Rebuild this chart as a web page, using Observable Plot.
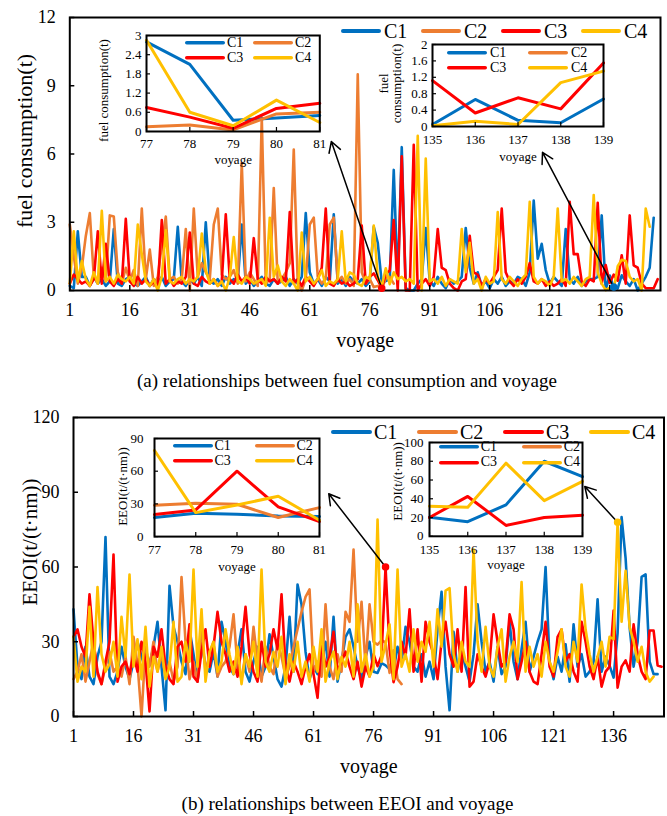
<!DOCTYPE html>
<html>
<head>
<meta charset="utf-8">
<script src="https://cdn.jsdelivr.net/npm/d3@7"></script>
<script src="https://cdn.jsdelivr.net/npm/@observablehq/plot@0.6"></script>
<style>
  body { margin: 0; background: #fff; font-family: "Liberation Serif", "Times New Roman", serif; }
  #page { position: relative; width: 667px; height: 816px; overflow: hidden; background: #fff; }
  .caption { position: absolute; font-family: "Liberation Serif", "Times New Roman", serif; font-size: 19px; white-space: nowrap; transform: translate(-50%, -50%); line-height: 1; }
  .key { font-family: "Liberation Serif", "Times New Roman", serif; }
</style>
</head>
<body>
<div id="page"></div>
<script>
// ---- series ----
const seriesNames = ["C1", "C2", "C3", "C4"];
const seriesColors = ["#0070C0", "#ED7D31", "#FF0000", "#FFC000"];
const mainXTicks = [1, 16, 31, 46, 61, 76, 91, 106, 121, 136];

// fuel consumption (t) per voyage, starting at voyage 1
const fuelC1 = [0.2,0.1,2.6,0.6,0.6,0.2,0.6,0.3,0.5,0.2,
  0.4,2.7,0.3,0.2,0.5,0.6,0.3,0.2,0.4,0.6,
  0.2,0.5,0.3,0.6,0.2,0.4,0.5,2.8,0.4,0.2,
  0.5,0.3,0.6,0.2,3.0,0.4,0.3,0.5,0.2,0.6,
  0.3,0.5,0.4,2.9,0.3,0.5,0.2,0.4,0.6,0.3,
  0.2,0.5,0.3,0.4,0.6,0.2,0.5,0.3,0.6,3.4,
  0.8,0.3,0.5,0.2,0.6,0.4,3.35,0.3,0.5,0.2,
  0.6,0.4,0.3,0.5,0.2,0.4,2.8,2.1,0.35,0.42,
  0.5,5.3,0.3,6.3,0.1,0.0,0.0,0.3,0.5,2.75,
  0.4,0.2,0.6,0.3,0.1,0.5,0.3,0.4,0.6,2.75,
  1.0,0.3,0.8,0.2,0.4,0.1,0.5,0.3,0.6,0.2,
  0.4,0.3,0.6,0.5,0.2,0.8,3.95,1.4,2.05,0.9,
  0.3,0.6,0.4,0.2,2.7,0.5,0.3,0.6,0.2,0.4,
  0.5,0.5,0.6,3.3,0.05,0.66,0.15,0.09,0.67,0.4,
  0.2,0.5,0.0,0.3,0.6,1.0,3.2];
const fuelC2 = [2.9,1.5,0.3,1.0,2.4,3.4,0.6,0.3,1.0,0.4,
  3.3,3.25,0.8,0.3,1.0,0.4,0.9,0.2,3.6,0.5,
  1.8,0.2,0.6,2.0,3.25,0.5,0.6,0.3,0.5,2.7,
  0.0,3.6,0.6,1.2,0.8,0.5,2.9,3.6,0.7,0.5,
  0.6,0.9,0.3,5.6,0.4,0.8,0.5,0.2,7.6,0.3,
  0.5,4.5,0.3,0.5,0.8,1.2,6.2,0.3,0.0,0.5,
  2.9,3.2,0.6,0.3,0.5,2.9,3.2,0.4,0.6,0.3,
  0.5,0.2,9.5,0.8,0.3,0.5,0.15,0.2,0.05,0.55,
  0.6,0.3];
const fuelC3 = [0.3,0.7,0.5,0.3,0.4,0.2,0.5,2.6,0.3,2.05,
  0.4,0.2,0.5,0.3,3.15,0.4,0.2,0.6,0.3,0.5,
  0.2,0.4,0.1,3.1,0.3,0.5,0.2,0.4,0.3,0.6,
  2.55,0.3,0.2,0.6,0.4,0.3,0.5,0.2,0.4,3.35,
  0.5,0.3,0.7,0.4,0.6,0.3,2.3,0.5,0.3,0.6,
  0.4,0.5,0.3,0.6,0.4,3.45,0.3,0.5,0.2,0.6,
  0.4,0.2,0.5,1.0,3.6,0.3,0.2,0.5,0.3,0.4,
  0.2,0.3,0.5,2.85,0.3,0.6,0.75,0.45,0.1,0.72,
  0.88,3.1,0.0,5.9,0.0,0.0,6.4,0.0,0.3,0.5,
  0.2,0.6,2.7,1.0,0.9,0.3,0.1,0.0,0.4,0.5,
  2.4,0.8,0.7,0.2,0.5,0.3,0.6,0.9,3.6,0.8,
  0.4,0.2,0.5,0.3,0.6,1.2,0.4,0.3,0.5,0.2,
  0.4,0.2,0.3,0.5,0.2,3.9,1.6,1.6,0.4,0.2,
  0.5,0.4,3.85,0.3,1.12,0.33,0.7,0.43,1.55,0.3,
  3.3,1.1,1.0,0.3,0.1,0.1,0.1,0.5];
const fuelC4 = [0.3,2.6,0.4,1.3,0.5,0.2,0.8,0.3,3.5,0.4,
  0.6,0.3,0.7,0.5,0.4,0.6,0.3,2.9,1.6,0.4,
  0.2,0.5,0.0,0.6,2.65,0.4,0.3,0.5,0.6,0.3,
  0.5,0.4,0.6,2.5,0.9,0.3,0.5,0.2,0.4,0.0,
  0.6,2.35,0.4,0.3,0.6,0.5,0.3,0.4,0.5,0.2,
  3.2,0.6,1.1,0.4,0.2,0.5,0.3,0.0,2.55,0.4,
  0.6,0.3,0.5,0.9,0.2,0.4,0.3,0.5,2.6,0.4,
  0.8,0.7,0.3,0.2,0.6,0.5,2.85,0.6,0.18,0.98,
  0.28,0.8,0.5,0.6,0.4,0.5,0.3,6.8,0.0,5.8,
  0.4,0.5,0.3,0.6,0.2,0.5,0.4,0.3,2.7,0.8,
  2.1,0.3,0.5,0.0,0.6,0.3,0.4,3.45,0.5,0.3,
  0.6,0.4,0.2,0.5,0.7,3.9,0.6,0.3,0.5,0.4,
  0.2,0.6,3.6,0.4,0.5,0.3,0.6,0.4,0.2,0.5,
  0.6,4.2,0.8,0.3,0.02,0.13,0.05,1.07,1.35,1.3,
  0.6,0.4,0.5,0.0,3.6,2.8];

// EEOI (t/(t·nm)) per voyage, starting at voyage 1
const eeoiC1 = [43,20,15,28,16,13,24,30,72,16,
  13,18,28,20,15,22,30,24,19,21,
  28,38,20,2.5,52.5,36,30,22,17,35,
  25,14,30,20,18,26,16,38,30,20,
  17,25,35,18,14,22,28,16,20,33,
  24,15,12,20,40,18,53,45,26,15,
  20,17,22,30,16,40,14,22,32,35,
  28,20,15,24,30,18,17.5,21.4,20.5,19,
  18.4,28,22,36,30,20,18,25,16,22,
  15,35,50,20,2.5,34,18,26,20,14,
  25,45,30,18,22,14,28,17,20,38,
  22,15,27,38,18,24,30,35,60,22,
  15,24,18,29,14,37,20,25,16,18,
  22,47,18,24,20.4,15.6,33.5,80,63.6,36,
  20,30,56,57,22,17,17];
const eeoiC2 = [15,18,25,14,22,30,17,13,20,26,
  18,20,16,24,13,32,21,0,28,20,
  30,18,25,16,22,14,20,56,30,15,
  22,14,35,18,25,30,16,20,22,28,
  41,20,15,25,18,36,22,14,28,20,
  17,30,24,16,20,28,35,42,48,51,
  18,22,16,45,20,15,25,18,42,38,
  67,30,46,20,45,30,28.8,30.6,29.7,17.5,
  26.6,15,13];
const eeoiC3 = [32,35,28,24,49,30,18,13,22,30,
  65,14,20,22,17,25,18,30,22,2,
  28,24,35,20,15,13,28,30,22,37,
  16,14,26,35,20,28,42,30,25,18,
  22,16,28,44,25,18,14,30,20,25,
  35,27,49,20,14,22,18,13,20,25,
  17,7.5,30,20,24,34,18,22,26,20,
  15,22,12,20,16,25,20.2,24.5,60,27.2,
  13.8,20,30,24,43,18,35,14,38,30,
  25,15,30,38,25,20,35,18,52,12,
  14,25,20,16,22,41,30,20,22,41,
  35,15,22,30,18,14,13,25,38,20,
  16,32,35,22,25,18,14,38,30,20,
  15,24,12,18,20,42.5,11.6,20,22.5,18,
  37,25,18,15,34.5,34.5,20.5,20];
const eeoiC4 = [32,14,20,18,44,16,52,25,18,21,
  30,16,40,24,57,20,31,15,36,12,
  24,18,28,15,20,38,14,16,30,22,
  59,20,43,14,26,30,18,22,35,25,
  17,28,13,25,20,30,16,59,22,18,
  26,20,32,13,25,18,30,16,22,14,
  28,18,35,14,22,26,15,24,20,30,
  16,45,18,25,16,20,79,22,29,37,
  15,59,20,25,18,35,22,30,26,38,
  20,43,28,50.5,51.5,25,18,30,22,20,
  67,30,18,36,20,16,28,35,14,24,
  30,22,54,18,28,20,25,16,30,22,
  18,26,35,20,16,30,22,53,35,25,
  18,24,30,20,32,31,78,38,58.5,36,
  30,22,28,18,14,16];

// Callout arrows: from a voyage on one series up to the zoomed panel
const fuelArrows = [
  {series: "C3", x1: 79, x2: 66.4, y2: 6.55},
  {series: "C1", x1: 137, x2: 119.2, y2: 6.07}
];
const eeoiArrows = [
  {series: "C3", x1: 79, x2: 64.8, y2: 89.4},
  {series: "C4", x1: 137, x2: 128.8, y2: 92.3}
];

const FONT = '"Liberation Serif", "Times New Roman", serif';
const PAGE_W = 667;
const page = document.getElementById("page");

function tidy(arrays, range) {
  const rows = [];
  arrays.forEach((vals, s) => vals.forEach((v, i) => {
    const voyage = i + 1;
    if (!range || (voyage >= range[0] && voyage <= range[1])) rows.push({voyage, value: v, series: seriesNames[s]});
  }));
  return rows;
}

function place(el, left, top) {
  el.style.position = "absolute";
  el.style.left = left + "px";
  el.style.top = top + "px";
  page.appendChild(el);
}

// centred title text (rotated for the y axis)
function title(label, anchor, opts) {
  return Plot.text([label], {text: d => d, frameAnchor: anchor, textAnchor: "middle", lineAnchor: "middle", ...opts});
}

function panel(cfg) {
  const f = cfg.frame;
  const plotW = f.right - f.left;
  const plotH = f.bottom - f.top;
  const arrows = cfg.arrows.map(a => ({...a, y1: cfg.values[seriesNames.indexOf(a.series)][a.x1 - 1]}));
  const svg = Plot.plot({
    width: PAGE_W, height: cfg.height,
    marginLeft: f.left, marginRight: PAGE_W - f.right,
    marginTop: f.top, marginBottom: cfg.height - f.bottom,
    x: {domain: cfg.xDomain},
    y: {domain: cfg.yDomain},
    color: {domain: seriesNames, range: seriesColors},
    style: {fontFamily: FONT, fontSize: "18px", background: "transparent", overflow: "visible"},
    marks: [
      Plot.line(tidy(cfg.values), {x: "voyage", y: "value", z: "series", stroke: "series", strokeWidth: 2.6, strokeLinejoin: "round"}),
      Plot.ruleX(mainXTicks, {x: d => d, insetTop: plotH - 5, stroke: "black", strokeWidth: 1.5}),
      Plot.ruleY(cfg.yTicks, {y: d => d, insetRight: plotW - 5, stroke: "black", strokeWidth: 1.5}),
      Plot.axisX({ticks: mainXTicks, tickSize: 0, tickPadding: 13, label: null}),
      Plot.axisY({ticks: cfg.yTicks, tickSize: 0, tickPadding: 14, label: null}),
      Plot.frame({stroke: "black", strokeWidth: 2}),
      Plot.arrow(arrows, {x1: "x1", y1: "y1", x2: "x2", y2: "y2", stroke: "black", strokeWidth: 1.5, headLength: 12}),
      Plot.dot(arrows, {x: "x1", y: "y1", r: 3, fill: "series", stroke: "series"}),
      title(cfg.yTitle, "left", {dx: cfg.yTitleDx, dy: cfg.yTitleDy, rotate: -90, fontSize: cfg.yTitleSize}),
      title("voyage", "bottom", {dy: 50, fontSize: 20})
    ]
  });
  place(svg, 0, cfg.top);
}

function inset(cfg) {
  const m = {left: 60, right: 8, top: 8, bottom: 40};
  const b = cfg.box;
  const w = b.right - b.left, h = b.bottom - b.top;
  const xt = d3.range(cfg.xDomain[0], cfg.xDomain[1] + 1);
  const svg = Plot.plot({
    width: w + m.left + m.right, height: h + m.top + m.bottom,
    marginLeft: m.left, marginRight: m.right, marginTop: m.top, marginBottom: m.bottom,
    x: {domain: cfg.xDomain},
    y: {domain: cfg.yDomain},
    color: {domain: seriesNames, range: seriesColors},
    style: {fontFamily: FONT, fontSize: "13px", background: "transparent", overflow: "visible"},
    marks: [
      Plot.line(tidy(cfg.values, cfg.xDomain), {x: "voyage", y: "value", z: "series", stroke: "series", strokeWidth: 3, strokeLinejoin: "round"}),
      Plot.ruleX(xt, {x: d => d, insetTop: h - 4, stroke: "black", strokeWidth: 1.2}),
      Plot.ruleY(cfg.yTicks, {y: d => d, insetRight: w - 4, stroke: "black", strokeWidth: 1.2}),
      Plot.axisX({ticks: xt, tickSize: 0, tickPadding: cfg.xPad, label: null, tickFormat: d => String(d)}),
      Plot.axisY({ticks: cfg.yTicks, tickSize: 0, tickPadding: cfg.yPad, label: null, tickFormat: d => String(d)}),
      Plot.frame({stroke: "black", strokeWidth: 2}),
      title(cfg.yTitle, "left", {dx: cfg.titleDx, dy: cfg.titleDy, rotate: -90, fontSize: 13, lineHeight: 1}),
      title("voyage", "bottom", {dy: cfg.voyageDy, fontSize: 13})
    ]
  });
  place(svg, b.left - m.left, b.top - m.top);
}

function legend(cfg) {
  seriesNames.forEach((name, i) => {
    const col = i % cfg.cols, row = Math.floor(i / cfg.cols);
    const item = document.createElement("div");
    item.className = "key";
    item.style.cssText = `display:flex;align-items:center;transform:translateY(-50%);font-size:${cfg.fontSize}px;line-height:1;white-space:nowrap;`;
    const lw = cfg.lineWidth;
    item.innerHTML = `<svg width="${cfg.lineLen}" height="${lw + 2}" style="display:block;overflow:visible"><line x1="${lw / 2}" x2="${cfg.lineLen - lw / 2}" y1="${lw / 2 + 1}" y2="${lw / 2 + 1}" stroke="${seriesColors[i]}" stroke-width="${lw}" stroke-linecap="round"/></svg><span style="margin-left:${cfg.gap}px">${name}</span>`;
    place(item, cfg.left + col * cfg.colWidth, cfg.top + row * cfg.rowHeight);
  });
}

function caption(text, cx, cy) {
  const el = document.createElement("div");
  el.className = "caption";
  el.textContent = text;
  place(el, cx, cy);
}

// (a) fuel consumption
const fuelValues = [fuelC1, fuelC2, fuelC3, fuelC4];
panel({
  top: 0, height: 355, values: fuelValues,
  frame: {left: 69.3, top: 17, right: 660, bottom: 290},
  xDomain: [1, 148.7], yDomain: [0, 12], yTicks: [0, 3, 6, 9, 12],
  arrows: fuelArrows,
  yTitle: "fuel consumption(t)", yTitleDx: -45, yTitleDy: -13, yTitleSize: 22
});
inset({
  values: fuelValues, box: {left: 146, top: 35, right: 319.3, bottom: 131},
  xDomain: [77, 81], yDomain: [0, 3], yTicks: [0, 0.6, 1.2, 1.8, 2.4, 3],
  xPad: 7, yPad: 5, yTitle: "fuel consumption(t)", titleDx: -43, titleDy: 7, voyageDy: 28
});
inset({
  values: fuelValues, box: {left: 431.7, top: 44, right: 602.7, bottom: 126},
  xDomain: [135, 139], yDomain: [0, 2], yTicks: [0, 0.4, 0.8, 1.2, 1.6, 2],
  xPad: 8, yPad: 5, yTitle: "fuel\nconsumption(t)", titleDx: -42, titleDy: -2, voyageDy: 30
});
legend({left: 341, top: 31, cols: 4, colWidth: 80, rowHeight: 0, lineLen: 40, lineWidth: 4, fontSize: 20, gap: 3});
legend({left: 185, top: 43, cols: 2, colWidth: 68, rowHeight: 14.5, lineLen: 40, lineWidth: 3.5, fontSize: 14, gap: 2});
legend({left: 447, top: 53, cols: 2, colWidth: 81, rowHeight: 15, lineLen: 40, lineWidth: 3.5, fontSize: 14, gap: 3});
caption("(a) relationships between fuel consumption and voyage", 347, 380);

// (b) EEOI
const eeoiValues = [eeoiC1, eeoiC2, eeoiC3, eeoiC4];
panel({
  top: 400, height: 381, values: eeoiValues,
  frame: {left: 73, top: 17, right: 663.5, bottom: 316},
  xDomain: [1, 148.6], yDomain: [0, 120], yTicks: [0, 30, 60, 90, 120],
  arrows: eeoiArrows,
  yTitle: "EEOI(t/(t·nm))", yTitleDx: -43, yTitleDy: -25, yTitleSize: 21
});
inset({
  values: eeoiValues, box: {left: 153.5, top: 437.6, right: 318.5, bottom: 535.7},
  xDomain: [77, 81], yDomain: [0, 90], yTicks: [0, 30, 60, 90],
  xPad: 8, yPad: 11, yTitle: "EEOI(t/(t·nm))", titleDx: -32, titleDy: -1, voyageDy: 30
});
inset({
  values: eeoiValues, box: {left: 429, top: 441.7, right: 582, bottom: 535.5},
  xDomain: [135, 139], yDomain: [0, 100], yTicks: [0, 20, 40, 60, 80, 100],
  xPad: 8.5, yPad: 6, yTitle: "EEOI(t/(t·nm))", titleDx: -31.4, titleDy: -8, voyageDy: 29
});
legend({left: 331, top: 432, cols: 4, colWidth: 86, rowHeight: 0, lineLen: 41, lineWidth: 4, fontSize: 20, gap: 2});
legend({left: 172.5, top: 445.7, cols: 2, colWidth: 82, rowHeight: 15.3, lineLen: 40, lineWidth: 3.5, fontSize: 14, gap: 2});
legend({left: 438.7, top: 446.7, cols: 2, colWidth: 83, rowHeight: 15.6, lineLen: 40, lineWidth: 3.5, fontSize: 14, gap: 2});
caption("(b) relationships between EEOI and voyage", 347.5, 803);
</script>
</body>
</html>
